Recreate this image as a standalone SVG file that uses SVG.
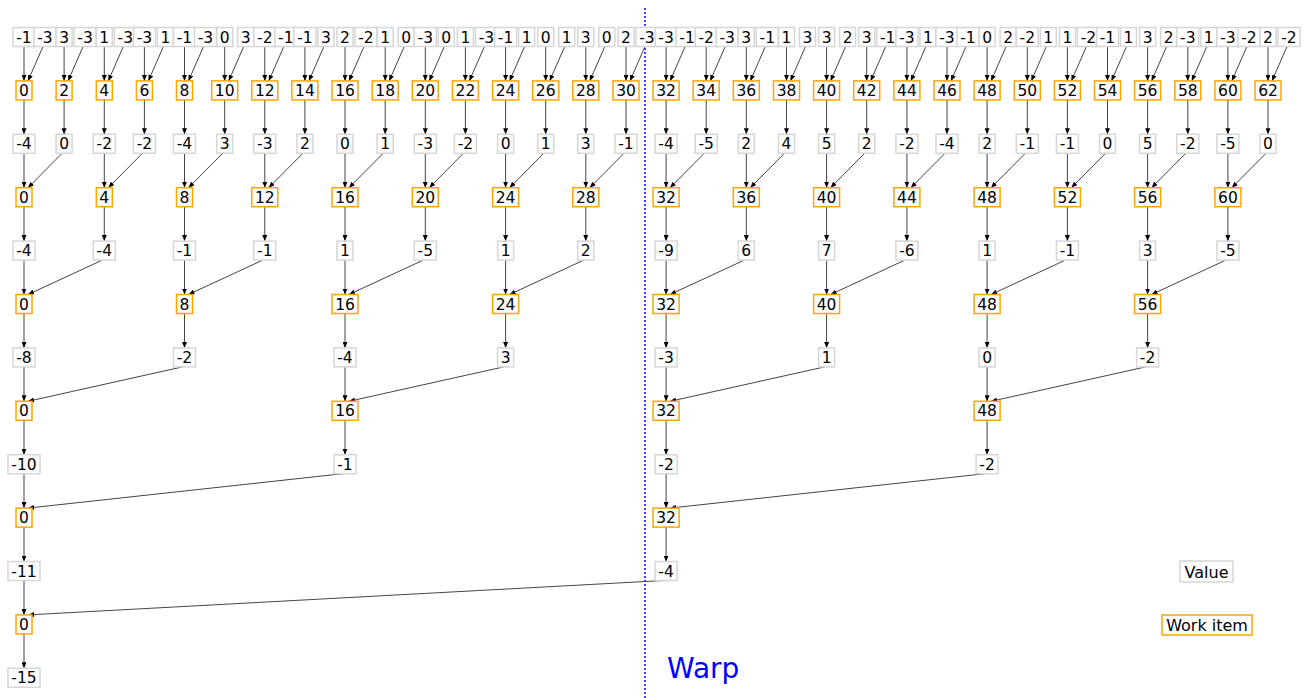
<svg xmlns="http://www.w3.org/2000/svg" width="1306" height="698" viewBox="0 0 1306 698">
<defs>
<marker id="ah" markerWidth="6" markerHeight="5" refX="6" refY="2.5" orient="auto" markerUnits="userSpaceOnUse"><path d="M0,0 L6,2.5 L0,5 z" fill="#000"/></marker>
<style>
.v rect{fill:#fff;stroke:#d6d6d6;stroke-width:1.5}
.w rect{fill:#fff;stroke:#ffa500;stroke-width:1.5}
text{font-family:"DejaVu Sans","Liberation Sans",sans-serif;font-size:15.5px;text-anchor:middle;fill:#000}
#connectors line{stroke:#444;stroke-width:1;marker-end:url(#ah)}
</style>
</defs>
<rect width="1306" height="698" fill="#fff"/>
<line x1="645" y1="8" x2="645" y2="698" stroke="#0000ff" stroke-width="1.5" stroke-dasharray="2,2"/>
<text x="667" y="678" style="font-size:28px;text-anchor:start;fill:#0000ff">Warp</text>
<g id="connectors">
<!-- row0 -> row1 -->
<line x1="24" y1="46.5" x2="24" y2="80.9"/><line x1="43" y1="46.5" x2="28" y2="80.9"/>
<line x1="64.1" y1="46.5" x2="64.1" y2="80.9"/><line x1="83.1" y1="46.5" x2="68.1" y2="80.9"/>
<line x1="104.3" y1="46.5" x2="104.3" y2="80.9"/><line x1="123.3" y1="46.5" x2="108.3" y2="80.9"/>
<line x1="144.4" y1="46.5" x2="144.4" y2="80.9"/><line x1="163.4" y1="46.5" x2="148.4" y2="80.9"/>
<line x1="184.5" y1="46.5" x2="184.5" y2="80.9"/><line x1="203.5" y1="46.5" x2="188.5" y2="80.9"/>
<line x1="224.7" y1="46.5" x2="224.7" y2="80.9"/><line x1="243.7" y1="46.5" x2="228.7" y2="80.9"/>
<line x1="264.8" y1="46.5" x2="264.8" y2="80.9"/><line x1="283.8" y1="46.5" x2="268.8" y2="80.9"/>
<line x1="304.9" y1="46.5" x2="304.9" y2="80.9"/><line x1="323.9" y1="46.5" x2="308.9" y2="80.9"/>
<line x1="345" y1="46.5" x2="345" y2="80.9"/><line x1="364" y1="46.5" x2="349" y2="80.9"/>
<line x1="385.2" y1="46.5" x2="385.2" y2="80.9"/><line x1="404.2" y1="46.5" x2="389.2" y2="80.9"/>
<line x1="425.3" y1="46.5" x2="425.3" y2="80.9"/><line x1="444.3" y1="46.5" x2="429.3" y2="80.9"/>
<line x1="465.4" y1="46.5" x2="465.4" y2="80.9"/><line x1="484.4" y1="46.5" x2="469.4" y2="80.9"/>
<line x1="505.6" y1="46.5" x2="505.6" y2="80.9"/><line x1="524.6" y1="46.5" x2="509.6" y2="80.9"/>
<line x1="545.7" y1="46.5" x2="545.7" y2="80.9"/><line x1="564.7" y1="46.5" x2="549.7" y2="80.9"/>
<line x1="585.8" y1="46.5" x2="585.8" y2="80.9"/><line x1="604.8" y1="46.5" x2="589.8" y2="80.9"/>
<line x1="626" y1="46.5" x2="626" y2="80.9"/><line x1="645" y1="46.5" x2="630" y2="80.9"/>
<line x1="666.1" y1="46.5" x2="666.1" y2="80.9"/><line x1="685.1" y1="46.5" x2="670.1" y2="80.9"/>
<line x1="706.2" y1="46.5" x2="706.2" y2="80.9"/><line x1="725.2" y1="46.5" x2="710.2" y2="80.9"/>
<line x1="746.3" y1="46.5" x2="746.3" y2="80.9"/><line x1="765.3" y1="46.5" x2="750.3" y2="80.9"/>
<line x1="786.5" y1="46.5" x2="786.5" y2="80.9"/><line x1="805.5" y1="46.5" x2="790.5" y2="80.9"/>
<line x1="826.6" y1="46.5" x2="826.6" y2="80.9"/><line x1="845.6" y1="46.5" x2="830.6" y2="80.9"/>
<line x1="866.7" y1="46.5" x2="866.7" y2="80.9"/><line x1="885.7" y1="46.5" x2="870.7" y2="80.9"/>
<line x1="906.9" y1="46.5" x2="906.9" y2="80.9"/><line x1="925.9" y1="46.5" x2="910.9" y2="80.9"/>
<line x1="947" y1="46.5" x2="947" y2="80.9"/><line x1="966" y1="46.5" x2="951" y2="80.9"/>
<line x1="987.1" y1="46.5" x2="987.1" y2="80.9"/><line x1="1006.1" y1="46.5" x2="991.1" y2="80.9"/>
<line x1="1027.3" y1="46.5" x2="1027.3" y2="80.9"/><line x1="1046.3" y1="46.5" x2="1031.3" y2="80.9"/>
<line x1="1067.4" y1="46.5" x2="1067.4" y2="80.9"/><line x1="1086.4" y1="46.5" x2="1071.4" y2="80.9"/>
<line x1="1107.5" y1="46.5" x2="1107.5" y2="80.9"/><line x1="1126.5" y1="46.5" x2="1111.5" y2="80.9"/>
<line x1="1147.6" y1="46.5" x2="1147.6" y2="80.9"/><line x1="1166.6" y1="46.5" x2="1151.6" y2="80.9"/>
<line x1="1187.8" y1="46.5" x2="1187.8" y2="80.9"/><line x1="1206.8" y1="46.5" x2="1191.8" y2="80.9"/>
<line x1="1227.9" y1="46.5" x2="1227.9" y2="80.9"/><line x1="1246.9" y1="46.5" x2="1231.9" y2="80.9"/>
<line x1="1268" y1="46.5" x2="1268" y2="80.9"/><line x1="1287" y1="46.5" x2="1272" y2="80.9"/>
<!-- row1 -> row2 -->
<line x1="24" y1="99.9" x2="24" y2="134.3"/><line x1="64.1" y1="99.9" x2="64.1" y2="134.3"/>
<line x1="104.3" y1="99.9" x2="104.3" y2="134.3"/><line x1="144.4" y1="99.9" x2="144.4" y2="134.3"/>
<line x1="184.5" y1="99.9" x2="184.5" y2="134.3"/><line x1="224.7" y1="99.9" x2="224.7" y2="134.3"/>
<line x1="264.8" y1="99.9" x2="264.8" y2="134.3"/><line x1="304.9" y1="99.9" x2="304.9" y2="134.3"/>
<line x1="345" y1="99.9" x2="345" y2="134.3"/><line x1="385.2" y1="99.9" x2="385.2" y2="134.3"/>
<line x1="425.3" y1="99.9" x2="425.3" y2="134.3"/><line x1="465.4" y1="99.9" x2="465.4" y2="134.3"/>
<line x1="505.6" y1="99.9" x2="505.6" y2="134.3"/><line x1="545.7" y1="99.9" x2="545.7" y2="134.3"/>
<line x1="585.8" y1="99.9" x2="585.8" y2="134.3"/><line x1="626" y1="99.9" x2="626" y2="134.3"/>
<line x1="666.1" y1="99.9" x2="666.1" y2="134.3"/><line x1="706.2" y1="99.9" x2="706.2" y2="134.3"/>
<line x1="746.3" y1="99.9" x2="746.3" y2="134.3"/><line x1="786.5" y1="99.9" x2="786.5" y2="134.3"/>
<line x1="826.6" y1="99.9" x2="826.6" y2="134.3"/><line x1="866.7" y1="99.9" x2="866.7" y2="134.3"/>
<line x1="906.9" y1="99.9" x2="906.9" y2="134.3"/><line x1="947" y1="99.9" x2="947" y2="134.3"/>
<line x1="987.1" y1="99.9" x2="987.1" y2="134.3"/><line x1="1027.3" y1="99.9" x2="1027.3" y2="134.3"/>
<line x1="1067.4" y1="99.9" x2="1067.4" y2="134.3"/><line x1="1107.5" y1="99.9" x2="1107.5" y2="134.3"/>
<line x1="1147.6" y1="99.9" x2="1147.6" y2="134.3"/><line x1="1187.8" y1="99.9" x2="1187.8" y2="134.3"/>
<line x1="1227.9" y1="99.9" x2="1227.9" y2="134.3"/><line x1="1268" y1="99.9" x2="1268" y2="134.3"/>
<!-- row2 -> row3 -->
<line x1="24" y1="153.3" x2="24" y2="187.7"/><line x1="62.1" y1="153.3" x2="28" y2="187.7"/>
<line x1="104.3" y1="153.3" x2="104.3" y2="187.7"/><line x1="142.4" y1="153.3" x2="108.3" y2="187.7"/>
<line x1="184.5" y1="153.3" x2="184.5" y2="187.7"/><line x1="222.7" y1="153.3" x2="188.5" y2="187.7"/>
<line x1="264.8" y1="153.3" x2="264.8" y2="187.7"/><line x1="302.9" y1="153.3" x2="268.8" y2="187.7"/>
<line x1="345" y1="153.3" x2="345" y2="187.7"/><line x1="383.2" y1="153.3" x2="349" y2="187.7"/>
<line x1="425.3" y1="153.3" x2="425.3" y2="187.7"/><line x1="463.4" y1="153.3" x2="429.3" y2="187.7"/>
<line x1="505.6" y1="153.3" x2="505.6" y2="187.7"/><line x1="543.7" y1="153.3" x2="509.6" y2="187.7"/>
<line x1="585.8" y1="153.3" x2="585.8" y2="187.7"/><line x1="624" y1="153.3" x2="589.8" y2="187.7"/>
<line x1="666.1" y1="153.3" x2="666.1" y2="187.7"/><line x1="704.2" y1="153.3" x2="670.1" y2="187.7"/>
<line x1="746.3" y1="153.3" x2="746.3" y2="187.7"/><line x1="784.5" y1="153.3" x2="750.3" y2="187.7"/>
<line x1="826.6" y1="153.3" x2="826.6" y2="187.7"/><line x1="864.7" y1="153.3" x2="830.6" y2="187.7"/>
<line x1="906.9" y1="153.3" x2="906.9" y2="187.7"/><line x1="945" y1="153.3" x2="910.9" y2="187.7"/>
<line x1="987.1" y1="153.3" x2="987.1" y2="187.7"/><line x1="1025.3" y1="153.3" x2="991.1" y2="187.7"/>
<line x1="1067.4" y1="153.3" x2="1067.4" y2="187.7"/><line x1="1105.5" y1="153.3" x2="1071.4" y2="187.7"/>
<line x1="1147.6" y1="153.3" x2="1147.6" y2="187.7"/><line x1="1185.8" y1="153.3" x2="1151.6" y2="187.7"/>
<line x1="1227.9" y1="153.3" x2="1227.9" y2="187.7"/><line x1="1266" y1="153.3" x2="1231.9" y2="187.7"/>
<!-- row3 -> row4 -->
<line x1="24" y1="206.7" x2="24" y2="241.1"/><line x1="104.3" y1="206.7" x2="104.3" y2="241.1"/>
<line x1="184.5" y1="206.7" x2="184.5" y2="241.1"/><line x1="264.8" y1="206.7" x2="264.8" y2="241.1"/>
<line x1="345" y1="206.7" x2="345" y2="241.1"/><line x1="425.3" y1="206.7" x2="425.3" y2="241.1"/>
<line x1="505.6" y1="206.7" x2="505.6" y2="241.1"/><line x1="585.8" y1="206.7" x2="585.8" y2="241.1"/>
<line x1="666.1" y1="206.7" x2="666.1" y2="241.1"/><line x1="746.3" y1="206.7" x2="746.3" y2="241.1"/>
<line x1="826.6" y1="206.7" x2="826.6" y2="241.1"/><line x1="906.9" y1="206.7" x2="906.9" y2="241.1"/>
<line x1="987.1" y1="206.7" x2="987.1" y2="241.1"/><line x1="1067.4" y1="206.7" x2="1067.4" y2="241.1"/>
<line x1="1147.6" y1="206.7" x2="1147.6" y2="241.1"/><line x1="1227.9" y1="206.7" x2="1227.9" y2="241.1"/>
<!-- row4 -> row5 -->
<line x1="24" y1="260.1" x2="24" y2="294.5"/><line x1="102.3" y1="260.1" x2="28" y2="294.5"/>
<line x1="184.5" y1="260.1" x2="184.5" y2="294.5"/><line x1="262.8" y1="260.1" x2="188.5" y2="294.5"/>
<line x1="345" y1="260.1" x2="345" y2="294.5"/><line x1="423.3" y1="260.1" x2="349" y2="294.5"/>
<line x1="505.6" y1="260.1" x2="505.6" y2="294.5"/><line x1="583.8" y1="260.1" x2="509.6" y2="294.5"/>
<line x1="666.1" y1="260.1" x2="666.1" y2="294.5"/><line x1="744.3" y1="260.1" x2="670.1" y2="294.5"/>
<line x1="826.6" y1="260.1" x2="826.6" y2="294.5"/><line x1="904.9" y1="260.1" x2="830.6" y2="294.5"/>
<line x1="987.1" y1="260.1" x2="987.1" y2="294.5"/><line x1="1065.4" y1="260.1" x2="991.1" y2="294.5"/>
<line x1="1147.6" y1="260.1" x2="1147.6" y2="294.5"/><line x1="1225.9" y1="260.1" x2="1151.6" y2="294.5"/>
<!-- row5 -> row6 -->
<line x1="24" y1="313.5" x2="24" y2="347.9"/><line x1="184.5" y1="313.5" x2="184.5" y2="347.9"/>
<line x1="345" y1="313.5" x2="345" y2="347.9"/><line x1="505.6" y1="313.5" x2="505.6" y2="347.9"/>
<line x1="666.1" y1="313.5" x2="666.1" y2="347.9"/><line x1="826.6" y1="313.5" x2="826.6" y2="347.9"/>
<line x1="987.1" y1="313.5" x2="987.1" y2="347.9"/><line x1="1147.6" y1="313.5" x2="1147.6" y2="347.9"/>
<!-- row6 -> row7 -->
<line x1="24" y1="366.9" x2="24" y2="401.3"/><line x1="182.5" y1="366.9" x2="28" y2="401.3"/>
<line x1="345" y1="366.9" x2="345" y2="401.3"/><line x1="503.6" y1="366.9" x2="349" y2="401.3"/>
<line x1="666.1" y1="366.9" x2="666.1" y2="401.3"/><line x1="824.6" y1="366.9" x2="670.1" y2="401.3"/>
<line x1="987.1" y1="366.9" x2="987.1" y2="401.3"/><line x1="1145.6" y1="366.9" x2="991.1" y2="401.3"/>
<!-- row7 -> row8 -->
<line x1="24" y1="420.3" x2="24" y2="454.7"/><line x1="345" y1="420.3" x2="345" y2="454.7"/>
<line x1="666.1" y1="420.3" x2="666.1" y2="454.7"/><line x1="987.1" y1="420.3" x2="987.1" y2="454.7"/>
<!-- row8 -> row9 -->
<line x1="24" y1="473.7" x2="24" y2="508.1"/><line x1="343" y1="473.7" x2="28" y2="508.1"/>
<line x1="666.1" y1="473.7" x2="666.1" y2="508.1"/><line x1="985.1" y1="473.7" x2="670.1" y2="508.1"/>
<!-- row9 -> row10 -->
<line x1="24" y1="527.1" x2="24" y2="561.5"/><line x1="666.1" y1="527.1" x2="666.1" y2="561.5"/>
<!-- row10 -> row11 -->
<line x1="24" y1="580.5" x2="24" y2="614.9"/><line x1="664.1" y1="580.5" x2="28" y2="614.9"/>
<!-- row11 -> row12 -->
<line x1="24" y1="633.9" x2="24" y2="668.3"/>
</g>
<!-- row 0 values -->
<g id="v0-0" class="v" transform="translate(24,37)"><rect x="-11" y="-9.5" width="22" height="19"/><text y="5.5">-1</text></g>
<g id="v0-1" class="v" transform="translate(45,37)"><rect x="-11" y="-9.5" width="22" height="19"/><text y="5.5">-3</text></g>
<g id="v0-2" class="v" transform="translate(64.1,37)"><rect x="-8" y="-9.5" width="16" height="19"/><text y="5.5">3</text></g>
<g id="v0-3" class="v" transform="translate(85.1,37)"><rect x="-11" y="-9.5" width="22" height="19"/><text y="5.5">-3</text></g>
<g id="v0-4" class="v" transform="translate(104.3,37)"><rect x="-8" y="-9.5" width="16" height="19"/><text y="5.5">1</text></g>
<g id="v0-5" class="v" transform="translate(125.3,37)"><rect x="-11" y="-9.5" width="22" height="19"/><text y="5.5">-3</text></g>
<g id="v0-6" class="v" transform="translate(144.4,37)"><rect x="-11" y="-9.5" width="22" height="19"/><text y="5.5">-3</text></g>
<g id="v0-7" class="v" transform="translate(165.4,37)"><rect x="-8" y="-9.5" width="16" height="19"/><text y="5.5">1</text></g>
<g id="v0-8" class="v" transform="translate(184.5,37)"><rect x="-11" y="-9.5" width="22" height="19"/><text y="5.5">-1</text></g>
<g id="v0-9" class="v" transform="translate(205.5,37)"><rect x="-11" y="-9.5" width="22" height="19"/><text y="5.5">-3</text></g>
<g id="v0-10" class="v" transform="translate(224.7,37)"><rect x="-8" y="-9.5" width="16" height="19"/><text y="5.5">0</text></g>
<g id="v0-11" class="v" transform="translate(245.7,37)"><rect x="-8" y="-9.5" width="16" height="19"/><text y="5.5">3</text></g>
<g id="v0-12" class="v" transform="translate(264.8,37)"><rect x="-11" y="-9.5" width="22" height="19"/><text y="5.5">-2</text></g>
<g id="v0-13" class="v" transform="translate(285.8,37)"><rect x="-11" y="-9.5" width="22" height="19"/><text y="5.5">-1</text></g>
<g id="v0-14" class="v" transform="translate(304.9,37)"><rect x="-11" y="-9.5" width="22" height="19"/><text y="5.5">-1</text></g>
<g id="v0-15" class="v" transform="translate(325.9,37)"><rect x="-8" y="-9.5" width="16" height="19"/><text y="5.5">3</text></g>
<g id="v0-16" class="v" transform="translate(345,37)"><rect x="-8" y="-9.5" width="16" height="19"/><text y="5.5">2</text></g>
<g id="v0-17" class="v" transform="translate(366,37)"><rect x="-11" y="-9.5" width="22" height="19"/><text y="5.5">-2</text></g>
<g id="v0-18" class="v" transform="translate(385.2,37)"><rect x="-8" y="-9.5" width="16" height="19"/><text y="5.5">1</text></g>
<g id="v0-19" class="v" transform="translate(406.2,37)"><rect x="-8" y="-9.5" width="16" height="19"/><text y="5.5">0</text></g>
<g id="v0-20" class="v" transform="translate(425.3,37)"><rect x="-11" y="-9.5" width="22" height="19"/><text y="5.5">-3</text></g>
<g id="v0-21" class="v" transform="translate(446.3,37)"><rect x="-8" y="-9.5" width="16" height="19"/><text y="5.5">0</text></g>
<g id="v0-22" class="v" transform="translate(465.4,37)"><rect x="-8" y="-9.5" width="16" height="19"/><text y="5.5">1</text></g>
<g id="v0-23" class="v" transform="translate(486.4,37)"><rect x="-11" y="-9.5" width="22" height="19"/><text y="5.5">-3</text></g>
<g id="v0-24" class="v" transform="translate(505.6,37)"><rect x="-11" y="-9.5" width="22" height="19"/><text y="5.5">-1</text></g>
<g id="v0-25" class="v" transform="translate(526.6,37)"><rect x="-8" y="-9.5" width="16" height="19"/><text y="5.5">1</text></g>
<g id="v0-26" class="v" transform="translate(545.7,37)"><rect x="-8" y="-9.5" width="16" height="19"/><text y="5.5">0</text></g>
<g id="v0-27" class="v" transform="translate(566.7,37)"><rect x="-8" y="-9.5" width="16" height="19"/><text y="5.5">1</text></g>
<g id="v0-28" class="v" transform="translate(585.8,37)"><rect x="-8" y="-9.5" width="16" height="19"/><text y="5.5">3</text></g>
<g id="v0-29" class="v" transform="translate(606.8,37)"><rect x="-8" y="-9.5" width="16" height="19"/><text y="5.5">0</text></g>
<g id="v0-30" class="v" transform="translate(626,37)"><rect x="-8" y="-9.5" width="16" height="19"/><text y="5.5">2</text></g>
<g id="v0-31" class="v" transform="translate(647,37)"><rect x="-11" y="-9.5" width="22" height="19"/><text y="5.5">-3</text></g>
<g id="v0-32" class="v" transform="translate(666.1,37)"><rect x="-11" y="-9.5" width="22" height="19"/><text y="5.5">-3</text></g>
<g id="v0-33" class="v" transform="translate(687.1,37)"><rect x="-11" y="-9.5" width="22" height="19"/><text y="5.5">-1</text></g>
<g id="v0-34" class="v" transform="translate(706.2,37)"><rect x="-11" y="-9.5" width="22" height="19"/><text y="5.5">-2</text></g>
<g id="v0-35" class="v" transform="translate(727.2,37)"><rect x="-11" y="-9.5" width="22" height="19"/><text y="5.5">-3</text></g>
<g id="v0-36" class="v" transform="translate(746.3,37)"><rect x="-8" y="-9.5" width="16" height="19"/><text y="5.5">3</text></g>
<g id="v0-37" class="v" transform="translate(767.3,37)"><rect x="-11" y="-9.5" width="22" height="19"/><text y="5.5">-1</text></g>
<g id="v0-38" class="v" transform="translate(786.5,37)"><rect x="-8" y="-9.5" width="16" height="19"/><text y="5.5">1</text></g>
<g id="v0-39" class="v" transform="translate(807.5,37)"><rect x="-8" y="-9.5" width="16" height="19"/><text y="5.5">3</text></g>
<g id="v0-40" class="v" transform="translate(826.6,37)"><rect x="-8" y="-9.5" width="16" height="19"/><text y="5.5">3</text></g>
<g id="v0-41" class="v" transform="translate(847.6,37)"><rect x="-8" y="-9.5" width="16" height="19"/><text y="5.5">2</text></g>
<g id="v0-42" class="v" transform="translate(866.7,37)"><rect x="-8" y="-9.5" width="16" height="19"/><text y="5.5">3</text></g>
<g id="v0-43" class="v" transform="translate(887.7,37)"><rect x="-11" y="-9.5" width="22" height="19"/><text y="5.5">-1</text></g>
<g id="v0-44" class="v" transform="translate(906.9,37)"><rect x="-11" y="-9.5" width="22" height="19"/><text y="5.5">-3</text></g>
<g id="v0-45" class="v" transform="translate(927.9,37)"><rect x="-8" y="-9.5" width="16" height="19"/><text y="5.5">1</text></g>
<g id="v0-46" class="v" transform="translate(947,37)"><rect x="-11" y="-9.5" width="22" height="19"/><text y="5.5">-3</text></g>
<g id="v0-47" class="v" transform="translate(968,37)"><rect x="-11" y="-9.5" width="22" height="19"/><text y="5.5">-1</text></g>
<g id="v0-48" class="v" transform="translate(987.1,37)"><rect x="-8" y="-9.5" width="16" height="19"/><text y="5.5">0</text></g>
<g id="v0-49" class="v" transform="translate(1008.1,37)"><rect x="-8" y="-9.5" width="16" height="19"/><text y="5.5">2</text></g>
<g id="v0-50" class="v" transform="translate(1027.3,37)"><rect x="-11" y="-9.5" width="22" height="19"/><text y="5.5">-2</text></g>
<g id="v0-51" class="v" transform="translate(1048.3,37)"><rect x="-8" y="-9.5" width="16" height="19"/><text y="5.5">1</text></g>
<g id="v0-52" class="v" transform="translate(1067.4,37)"><rect x="-8" y="-9.5" width="16" height="19"/><text y="5.5">1</text></g>
<g id="v0-53" class="v" transform="translate(1088.4,37)"><rect x="-11" y="-9.5" width="22" height="19"/><text y="5.5">-2</text></g>
<g id="v0-54" class="v" transform="translate(1107.5,37)"><rect x="-11" y="-9.5" width="22" height="19"/><text y="5.5">-1</text></g>
<g id="v0-55" class="v" transform="translate(1128.5,37)"><rect x="-8" y="-9.5" width="16" height="19"/><text y="5.5">1</text></g>
<g id="v0-56" class="v" transform="translate(1147.6,37)"><rect x="-8" y="-9.5" width="16" height="19"/><text y="5.5">3</text></g>
<g id="v0-57" class="v" transform="translate(1168.6,37)"><rect x="-8" y="-9.5" width="16" height="19"/><text y="5.5">2</text></g>
<g id="v0-58" class="v" transform="translate(1187.8,37)"><rect x="-11" y="-9.5" width="22" height="19"/><text y="5.5">-3</text></g>
<g id="v0-59" class="v" transform="translate(1208.8,37)"><rect x="-8" y="-9.5" width="16" height="19"/><text y="5.5">1</text></g>
<g id="v0-60" class="v" transform="translate(1227.9,37)"><rect x="-11" y="-9.5" width="22" height="19"/><text y="5.5">-3</text></g>
<g id="v0-61" class="v" transform="translate(1248.9,37)"><rect x="-11" y="-9.5" width="22" height="19"/><text y="5.5">-2</text></g>
<g id="v0-62" class="v" transform="translate(1268,37)"><rect x="-8" y="-9.5" width="16" height="19"/><text y="5.5">2</text></g>
<g id="v0-63" class="v" transform="translate(1289,37)"><rect x="-11" y="-9.5" width="22" height="19"/><text y="5.5">-2</text></g>
<!-- row 1 work items -->
<g id="w1-0" class="w" transform="translate(24,90.4)"><rect x="-8" y="-9.5" width="16" height="19"/><text y="5.5">0</text></g>
<g id="w1-2" class="w" transform="translate(64.1,90.4)"><rect x="-8" y="-9.5" width="16" height="19"/><text y="5.5">2</text></g>
<g id="w1-4" class="w" transform="translate(104.3,90.4)"><rect x="-8" y="-9.5" width="16" height="19"/><text y="5.5">4</text></g>
<g id="w1-6" class="w" transform="translate(144.4,90.4)"><rect x="-8" y="-9.5" width="16" height="19"/><text y="5.5">6</text></g>
<g id="w1-8" class="w" transform="translate(184.5,90.4)"><rect x="-8" y="-9.5" width="16" height="19"/><text y="5.5">8</text></g>
<g id="w1-10" class="w" transform="translate(224.7,90.4)"><rect x="-13" y="-9.5" width="26" height="19"/><text y="5.5">10</text></g>
<g id="w1-12" class="w" transform="translate(264.8,90.4)"><rect x="-13" y="-9.5" width="26" height="19"/><text y="5.5">12</text></g>
<g id="w1-14" class="w" transform="translate(304.9,90.4)"><rect x="-13" y="-9.5" width="26" height="19"/><text y="5.5">14</text></g>
<g id="w1-16" class="w" transform="translate(345,90.4)"><rect x="-13" y="-9.5" width="26" height="19"/><text y="5.5">16</text></g>
<g id="w1-18" class="w" transform="translate(385.2,90.4)"><rect x="-13" y="-9.5" width="26" height="19"/><text y="5.5">18</text></g>
<g id="w1-20" class="w" transform="translate(425.3,90.4)"><rect x="-13" y="-9.5" width="26" height="19"/><text y="5.5">20</text></g>
<g id="w1-22" class="w" transform="translate(465.4,90.4)"><rect x="-13" y="-9.5" width="26" height="19"/><text y="5.5">22</text></g>
<g id="w1-24" class="w" transform="translate(505.6,90.4)"><rect x="-13" y="-9.5" width="26" height="19"/><text y="5.5">24</text></g>
<g id="w1-26" class="w" transform="translate(545.7,90.4)"><rect x="-13" y="-9.5" width="26" height="19"/><text y="5.5">26</text></g>
<g id="w1-28" class="w" transform="translate(585.8,90.4)"><rect x="-13" y="-9.5" width="26" height="19"/><text y="5.5">28</text></g>
<g id="w1-30" class="w" transform="translate(626,90.4)"><rect x="-13" y="-9.5" width="26" height="19"/><text y="5.5">30</text></g>
<g id="w1-32" class="w" transform="translate(666.1,90.4)"><rect x="-13" y="-9.5" width="26" height="19"/><text y="5.5">32</text></g>
<g id="w1-34" class="w" transform="translate(706.2,90.4)"><rect x="-13" y="-9.5" width="26" height="19"/><text y="5.5">34</text></g>
<g id="w1-36" class="w" transform="translate(746.3,90.4)"><rect x="-13" y="-9.5" width="26" height="19"/><text y="5.5">36</text></g>
<g id="w1-38" class="w" transform="translate(786.5,90.4)"><rect x="-13" y="-9.5" width="26" height="19"/><text y="5.5">38</text></g>
<g id="w1-40" class="w" transform="translate(826.6,90.4)"><rect x="-13" y="-9.5" width="26" height="19"/><text y="5.5">40</text></g>
<g id="w1-42" class="w" transform="translate(866.7,90.4)"><rect x="-13" y="-9.5" width="26" height="19"/><text y="5.5">42</text></g>
<g id="w1-44" class="w" transform="translate(906.9,90.4)"><rect x="-13" y="-9.5" width="26" height="19"/><text y="5.5">44</text></g>
<g id="w1-46" class="w" transform="translate(947,90.4)"><rect x="-13" y="-9.5" width="26" height="19"/><text y="5.5">46</text></g>
<g id="w1-48" class="w" transform="translate(987.1,90.4)"><rect x="-13" y="-9.5" width="26" height="19"/><text y="5.5">48</text></g>
<g id="w1-50" class="w" transform="translate(1027.3,90.4)"><rect x="-13" y="-9.5" width="26" height="19"/><text y="5.5">50</text></g>
<g id="w1-52" class="w" transform="translate(1067.4,90.4)"><rect x="-13" y="-9.5" width="26" height="19"/><text y="5.5">52</text></g>
<g id="w1-54" class="w" transform="translate(1107.5,90.4)"><rect x="-13" y="-9.5" width="26" height="19"/><text y="5.5">54</text></g>
<g id="w1-56" class="w" transform="translate(1147.6,90.4)"><rect x="-13" y="-9.5" width="26" height="19"/><text y="5.5">56</text></g>
<g id="w1-58" class="w" transform="translate(1187.8,90.4)"><rect x="-13" y="-9.5" width="26" height="19"/><text y="5.5">58</text></g>
<g id="w1-60" class="w" transform="translate(1227.9,90.4)"><rect x="-13" y="-9.5" width="26" height="19"/><text y="5.5">60</text></g>
<g id="w1-62" class="w" transform="translate(1268,90.4)"><rect x="-13" y="-9.5" width="26" height="19"/><text y="5.5">62</text></g>
<!-- row 2 values -->
<g id="v2-0" class="v" transform="translate(24,143.8)"><rect x="-11" y="-9.5" width="22" height="19"/><text y="5.5">-4</text></g>
<g id="v2-1" class="v" transform="translate(64.1,143.8)"><rect x="-8" y="-9.5" width="16" height="19"/><text y="5.5">0</text></g>
<g id="v2-2" class="v" transform="translate(104.3,143.8)"><rect x="-11" y="-9.5" width="22" height="19"/><text y="5.5">-2</text></g>
<g id="v2-3" class="v" transform="translate(144.4,143.8)"><rect x="-11" y="-9.5" width="22" height="19"/><text y="5.5">-2</text></g>
<g id="v2-4" class="v" transform="translate(184.5,143.8)"><rect x="-11" y="-9.5" width="22" height="19"/><text y="5.5">-4</text></g>
<g id="v2-5" class="v" transform="translate(224.7,143.8)"><rect x="-8" y="-9.5" width="16" height="19"/><text y="5.5">3</text></g>
<g id="v2-6" class="v" transform="translate(264.8,143.8)"><rect x="-11" y="-9.5" width="22" height="19"/><text y="5.5">-3</text></g>
<g id="v2-7" class="v" transform="translate(304.9,143.8)"><rect x="-8" y="-9.5" width="16" height="19"/><text y="5.5">2</text></g>
<g id="v2-8" class="v" transform="translate(345,143.8)"><rect x="-8" y="-9.5" width="16" height="19"/><text y="5.5">0</text></g>
<g id="v2-9" class="v" transform="translate(385.2,143.8)"><rect x="-8" y="-9.5" width="16" height="19"/><text y="5.5">1</text></g>
<g id="v2-10" class="v" transform="translate(425.3,143.8)"><rect x="-11" y="-9.5" width="22" height="19"/><text y="5.5">-3</text></g>
<g id="v2-11" class="v" transform="translate(465.4,143.8)"><rect x="-11" y="-9.5" width="22" height="19"/><text y="5.5">-2</text></g>
<g id="v2-12" class="v" transform="translate(505.6,143.8)"><rect x="-8" y="-9.5" width="16" height="19"/><text y="5.5">0</text></g>
<g id="v2-13" class="v" transform="translate(545.7,143.8)"><rect x="-8" y="-9.5" width="16" height="19"/><text y="5.5">1</text></g>
<g id="v2-14" class="v" transform="translate(585.8,143.8)"><rect x="-8" y="-9.5" width="16" height="19"/><text y="5.5">3</text></g>
<g id="v2-15" class="v" transform="translate(626,143.8)"><rect x="-11" y="-9.5" width="22" height="19"/><text y="5.5">-1</text></g>
<g id="v2-16" class="v" transform="translate(666.1,143.8)"><rect x="-11" y="-9.5" width="22" height="19"/><text y="5.5">-4</text></g>
<g id="v2-17" class="v" transform="translate(706.2,143.8)"><rect x="-11" y="-9.5" width="22" height="19"/><text y="5.5">-5</text></g>
<g id="v2-18" class="v" transform="translate(746.3,143.8)"><rect x="-8" y="-9.5" width="16" height="19"/><text y="5.5">2</text></g>
<g id="v2-19" class="v" transform="translate(786.5,143.8)"><rect x="-8" y="-9.5" width="16" height="19"/><text y="5.5">4</text></g>
<g id="v2-20" class="v" transform="translate(826.6,143.8)"><rect x="-8" y="-9.5" width="16" height="19"/><text y="5.5">5</text></g>
<g id="v2-21" class="v" transform="translate(866.7,143.8)"><rect x="-8" y="-9.5" width="16" height="19"/><text y="5.5">2</text></g>
<g id="v2-22" class="v" transform="translate(906.9,143.8)"><rect x="-11" y="-9.5" width="22" height="19"/><text y="5.5">-2</text></g>
<g id="v2-23" class="v" transform="translate(947,143.8)"><rect x="-11" y="-9.5" width="22" height="19"/><text y="5.5">-4</text></g>
<g id="v2-24" class="v" transform="translate(987.1,143.8)"><rect x="-8" y="-9.5" width="16" height="19"/><text y="5.5">2</text></g>
<g id="v2-25" class="v" transform="translate(1027.3,143.8)"><rect x="-11" y="-9.5" width="22" height="19"/><text y="5.5">-1</text></g>
<g id="v2-26" class="v" transform="translate(1067.4,143.8)"><rect x="-11" y="-9.5" width="22" height="19"/><text y="5.5">-1</text></g>
<g id="v2-27" class="v" transform="translate(1107.5,143.8)"><rect x="-8" y="-9.5" width="16" height="19"/><text y="5.5">0</text></g>
<g id="v2-28" class="v" transform="translate(1147.6,143.8)"><rect x="-8" y="-9.5" width="16" height="19"/><text y="5.5">5</text></g>
<g id="v2-29" class="v" transform="translate(1187.8,143.8)"><rect x="-11" y="-9.5" width="22" height="19"/><text y="5.5">-2</text></g>
<g id="v2-30" class="v" transform="translate(1227.9,143.8)"><rect x="-11" y="-9.5" width="22" height="19"/><text y="5.5">-5</text></g>
<g id="v2-31" class="v" transform="translate(1268,143.8)"><rect x="-8" y="-9.5" width="16" height="19"/><text y="5.5">0</text></g>
<!-- row 3 work items -->
<g id="w3-0" class="w" transform="translate(24,197.2)"><rect x="-8" y="-9.5" width="16" height="19"/><text y="5.5">0</text></g>
<g id="w3-4" class="w" transform="translate(104.3,197.2)"><rect x="-8" y="-9.5" width="16" height="19"/><text y="5.5">4</text></g>
<g id="w3-8" class="w" transform="translate(184.5,197.2)"><rect x="-8" y="-9.5" width="16" height="19"/><text y="5.5">8</text></g>
<g id="w3-12" class="w" transform="translate(264.8,197.2)"><rect x="-13" y="-9.5" width="26" height="19"/><text y="5.5">12</text></g>
<g id="w3-16" class="w" transform="translate(345,197.2)"><rect x="-13" y="-9.5" width="26" height="19"/><text y="5.5">16</text></g>
<g id="w3-20" class="w" transform="translate(425.3,197.2)"><rect x="-13" y="-9.5" width="26" height="19"/><text y="5.5">20</text></g>
<g id="w3-24" class="w" transform="translate(505.6,197.2)"><rect x="-13" y="-9.5" width="26" height="19"/><text y="5.5">24</text></g>
<g id="w3-28" class="w" transform="translate(585.8,197.2)"><rect x="-13" y="-9.5" width="26" height="19"/><text y="5.5">28</text></g>
<g id="w3-32" class="w" transform="translate(666.1,197.2)"><rect x="-13" y="-9.5" width="26" height="19"/><text y="5.5">32</text></g>
<g id="w3-36" class="w" transform="translate(746.3,197.2)"><rect x="-13" y="-9.5" width="26" height="19"/><text y="5.5">36</text></g>
<g id="w3-40" class="w" transform="translate(826.6,197.2)"><rect x="-13" y="-9.5" width="26" height="19"/><text y="5.5">40</text></g>
<g id="w3-44" class="w" transform="translate(906.9,197.2)"><rect x="-13" y="-9.5" width="26" height="19"/><text y="5.5">44</text></g>
<g id="w3-48" class="w" transform="translate(987.1,197.2)"><rect x="-13" y="-9.5" width="26" height="19"/><text y="5.5">48</text></g>
<g id="w3-52" class="w" transform="translate(1067.4,197.2)"><rect x="-13" y="-9.5" width="26" height="19"/><text y="5.5">52</text></g>
<g id="w3-56" class="w" transform="translate(1147.6,197.2)"><rect x="-13" y="-9.5" width="26" height="19"/><text y="5.5">56</text></g>
<g id="w3-60" class="w" transform="translate(1227.9,197.2)"><rect x="-13" y="-9.5" width="26" height="19"/><text y="5.5">60</text></g>
<!-- row 4 values -->
<g id="v4-0" class="v" transform="translate(24,250.6)"><rect x="-11" y="-9.5" width="22" height="19"/><text y="5.5">-4</text></g>
<g id="v4-1" class="v" transform="translate(104.3,250.6)"><rect x="-11" y="-9.5" width="22" height="19"/><text y="5.5">-4</text></g>
<g id="v4-2" class="v" transform="translate(184.5,250.6)"><rect x="-11" y="-9.5" width="22" height="19"/><text y="5.5">-1</text></g>
<g id="v4-3" class="v" transform="translate(264.8,250.6)"><rect x="-11" y="-9.5" width="22" height="19"/><text y="5.5">-1</text></g>
<g id="v4-4" class="v" transform="translate(345,250.6)"><rect x="-8" y="-9.5" width="16" height="19"/><text y="5.5">1</text></g>
<g id="v4-5" class="v" transform="translate(425.3,250.6)"><rect x="-11" y="-9.5" width="22" height="19"/><text y="5.5">-5</text></g>
<g id="v4-6" class="v" transform="translate(505.6,250.6)"><rect x="-8" y="-9.5" width="16" height="19"/><text y="5.5">1</text></g>
<g id="v4-7" class="v" transform="translate(585.8,250.6)"><rect x="-8" y="-9.5" width="16" height="19"/><text y="5.5">2</text></g>
<g id="v4-8" class="v" transform="translate(666.1,250.6)"><rect x="-11" y="-9.5" width="22" height="19"/><text y="5.5">-9</text></g>
<g id="v4-9" class="v" transform="translate(746.3,250.6)"><rect x="-8" y="-9.5" width="16" height="19"/><text y="5.5">6</text></g>
<g id="v4-10" class="v" transform="translate(826.6,250.6)"><rect x="-8" y="-9.5" width="16" height="19"/><text y="5.5">7</text></g>
<g id="v4-11" class="v" transform="translate(906.9,250.6)"><rect x="-11" y="-9.5" width="22" height="19"/><text y="5.5">-6</text></g>
<g id="v4-12" class="v" transform="translate(987.1,250.6)"><rect x="-8" y="-9.5" width="16" height="19"/><text y="5.5">1</text></g>
<g id="v4-13" class="v" transform="translate(1067.4,250.6)"><rect x="-11" y="-9.5" width="22" height="19"/><text y="5.5">-1</text></g>
<g id="v4-14" class="v" transform="translate(1147.6,250.6)"><rect x="-8" y="-9.5" width="16" height="19"/><text y="5.5">3</text></g>
<g id="v4-15" class="v" transform="translate(1227.9,250.6)"><rect x="-11" y="-9.5" width="22" height="19"/><text y="5.5">-5</text></g>
<!-- row 5 work items -->
<g id="w5-0" class="w" transform="translate(24,304)"><rect x="-8" y="-9.5" width="16" height="19"/><text y="5.5">0</text></g>
<g id="w5-8" class="w" transform="translate(184.5,304)"><rect x="-8" y="-9.5" width="16" height="19"/><text y="5.5">8</text></g>
<g id="w5-16" class="w" transform="translate(345,304)"><rect x="-13" y="-9.5" width="26" height="19"/><text y="5.5">16</text></g>
<g id="w5-24" class="w" transform="translate(505.6,304)"><rect x="-13" y="-9.5" width="26" height="19"/><text y="5.5">24</text></g>
<g id="w5-32" class="w" transform="translate(666.1,304)"><rect x="-13" y="-9.5" width="26" height="19"/><text y="5.5">32</text></g>
<g id="w5-40" class="w" transform="translate(826.6,304)"><rect x="-13" y="-9.5" width="26" height="19"/><text y="5.5">40</text></g>
<g id="w5-48" class="w" transform="translate(987.1,304)"><rect x="-13" y="-9.5" width="26" height="19"/><text y="5.5">48</text></g>
<g id="w5-56" class="w" transform="translate(1147.6,304)"><rect x="-13" y="-9.5" width="26" height="19"/><text y="5.5">56</text></g>
<!-- row 6 values -->
<g id="v6-0" class="v" transform="translate(24,357.4)"><rect x="-11" y="-9.5" width="22" height="19"/><text y="5.5">-8</text></g>
<g id="v6-1" class="v" transform="translate(184.5,357.4)"><rect x="-11" y="-9.5" width="22" height="19"/><text y="5.5">-2</text></g>
<g id="v6-2" class="v" transform="translate(345,357.4)"><rect x="-11" y="-9.5" width="22" height="19"/><text y="5.5">-4</text></g>
<g id="v6-3" class="v" transform="translate(505.6,357.4)"><rect x="-8" y="-9.5" width="16" height="19"/><text y="5.5">3</text></g>
<g id="v6-4" class="v" transform="translate(666.1,357.4)"><rect x="-11" y="-9.5" width="22" height="19"/><text y="5.5">-3</text></g>
<g id="v6-5" class="v" transform="translate(826.6,357.4)"><rect x="-8" y="-9.5" width="16" height="19"/><text y="5.5">1</text></g>
<g id="v6-6" class="v" transform="translate(987.1,357.4)"><rect x="-8" y="-9.5" width="16" height="19"/><text y="5.5">0</text></g>
<g id="v6-7" class="v" transform="translate(1147.6,357.4)"><rect x="-11" y="-9.5" width="22" height="19"/><text y="5.5">-2</text></g>
<!-- row 7 work items -->
<g id="w7-0" class="w" transform="translate(24,410.8)"><rect x="-8" y="-9.5" width="16" height="19"/><text y="5.5">0</text></g>
<g id="w7-16" class="w" transform="translate(345,410.8)"><rect x="-13" y="-9.5" width="26" height="19"/><text y="5.5">16</text></g>
<g id="w7-32" class="w" transform="translate(666.1,410.8)"><rect x="-13" y="-9.5" width="26" height="19"/><text y="5.5">32</text></g>
<g id="w7-48" class="w" transform="translate(987.1,410.8)"><rect x="-13" y="-9.5" width="26" height="19"/><text y="5.5">48</text></g>
<!-- row 8 values -->
<g id="v8-0" class="v" transform="translate(24,464.2)"><rect x="-16" y="-9.5" width="32" height="19"/><text y="5.5">-10</text></g>
<g id="v8-1" class="v" transform="translate(345,464.2)"><rect x="-11" y="-9.5" width="22" height="19"/><text y="5.5">-1</text></g>
<g id="v8-2" class="v" transform="translate(666.1,464.2)"><rect x="-11" y="-9.5" width="22" height="19"/><text y="5.5">-2</text></g>
<g id="v8-3" class="v" transform="translate(987.1,464.2)"><rect x="-11" y="-9.5" width="22" height="19"/><text y="5.5">-2</text></g>
<!-- row 9 work items -->
<g id="w9-0" class="w" transform="translate(24,517.6)"><rect x="-8" y="-9.5" width="16" height="19"/><text y="5.5">0</text></g>
<g id="w9-32" class="w" transform="translate(666.1,517.6)"><rect x="-13" y="-9.5" width="26" height="19"/><text y="5.5">32</text></g>
<!-- row 10 values -->
<g id="v10-0" class="v" transform="translate(24,571)"><rect x="-16" y="-9.5" width="32" height="19"/><text y="5.5">-11</text></g>
<g id="v10-1" class="v" transform="translate(666.1,571)"><rect x="-11" y="-9.5" width="22" height="19"/><text y="5.5">-4</text></g>
<!-- row 11 work item -->
<g id="w11-0" class="w" transform="translate(24,624.4)"><rect x="-8" y="-9.5" width="16" height="19"/><text y="5.5">0</text></g>
<!-- row 12 value -->
<g id="v12-0" class="v" transform="translate(24,677.8)"><rect x="-16" y="-9.5" width="32" height="19"/><text y="5.5">-15</text></g>
<!-- legend -->
<g id="legend-value" class="v" transform="translate(1206.5,571.5)"><rect x="-26.5" y="-10.5" width="53" height="21"/><text y="6" style="font-size:16px">Value</text></g>
<g id="legend-work" class="w" transform="translate(1207,625)"><rect x="-45" y="-10" width="90" height="20"/><text y="6" style="font-size:16px">Work item</text></g>
</svg>
